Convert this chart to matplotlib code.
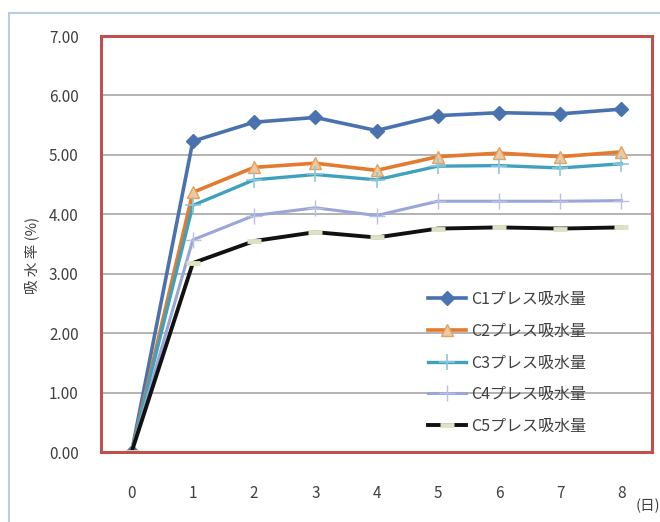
import matplotlib.pyplot as plt
from matplotlib.patches import Rectangle

plt.rcParams['font.family'] = ['Noto Sans CJK JP', 'DejaVu Sans']

# --- データ ---
days = [0, 1, 2, 3, 4, 5, 6, 7, 8]
c1 = [0.00, 5.23, 5.55, 5.63, 5.41, 5.66, 5.71, 5.69, 5.77]
c2 = [0.00, 4.37, 4.79, 4.86, 4.74, 4.97, 5.03, 4.97, 5.05]
c3 = [0.00, 4.15, 4.58, 4.67, 4.58, 4.81, 4.82, 4.78, 4.85]
c4 = [0.00, 3.57, 3.98, 4.11, 3.98, 4.22, 4.22, 4.22, 4.23]
c5 = [0.00, 3.18, 3.55, 3.70, 3.61, 3.76, 3.78, 3.76, 3.78]
labels = ['C1プレス吸水量', 'C2プレス吸水量', 'C3プレス吸水量', 'C4プレス吸水量', 'C5プレス吸水量']
y_ticks = [0, 1, 2, 3, 4, 5, 6, 7]

fig = plt.figure(figsize=(6.6, 5.22), dpi=100)
ax = fig.add_axes([0.153, 0.134, 0.835, 0.797])

# 外枠
fig.patches.append(Rectangle((9 / 660, -0.1), 1.2, 1 - 13 / 522 + 0.1, transform=fig.transFigure,
                             fill=False, edgecolor='#B9CDE5', linewidth=1.5))

styles = [
    dict(color='#4A72AE', marker='D', markersize=7, mfc='#4A72AE', mec='#4A72AE', lw=2.6),
    dict(color='#E47A2E', marker='^', markersize=9, mfc='#EDC9A0', mec='#E4A060', lw=2.6),
    dict(color='#3FA2BC', marker='+', markersize=11, mfc='#3FA2BC', mec='#8CC8D8', lw=2.4, mew=1.2),
    dict(color='#9AA6D8', marker='+', markersize=11, mfc='#9AA6D8', mec='#B8C0E4', lw=2.2, mew=1.0),
    dict(color='#111111', marker='_', markersize=10, mfc='#DDE2C4', mec='#DDE2C4', lw=2.8, mew=3.5),
]
for series, label, st in zip([c1, c2, c3, c4, c5], labels, styles):
    ax.plot(days, series, label=label, **st)

ax.set_xlim(-0.5, 8.5)
ax.set_ylim(0, 7)
ax.set_yticks(y_ticks)
ax.set_yticklabels([f'{v:.2f}' for v in y_ticks])
ax.set_xticks(days)
ax.tick_params(length=0, labelsize=11, labelcolor='#404040')
ax.tick_params(axis='x', pad=24)
ax.tick_params(axis='y', pad=16)
ax.grid(axis='y', color='#A6A6A6', linewidth=1.2)
ax.set_axisbelow(True)
for sp in ax.spines.values():
    sp.set_color('#C0504D')
    sp.set_linewidth(2.2)

fig.text(32 / 660, 1 - 255 / 522, '吸 水 率 (%)', rotation=90, ha='center', va='center',
         fontsize=10.5, color='#404040')
fig.text(648 / 660, 1 - 506 / 522, '(日)', ha='center', va='center', fontsize=10.5, color='#404040')

ax.legend(loc='upper left', bbox_to_anchor=(420 / 660, 1 - 283 / 522), bbox_transform=fig.transFigure,
          frameon=False, fontsize=11.5, labelcolor='#404040', handlelength=2.4, handletextpad=0.3,
          labelspacing=0.92, borderpad=0)

fig.savefig('out.png', dpi=100)
